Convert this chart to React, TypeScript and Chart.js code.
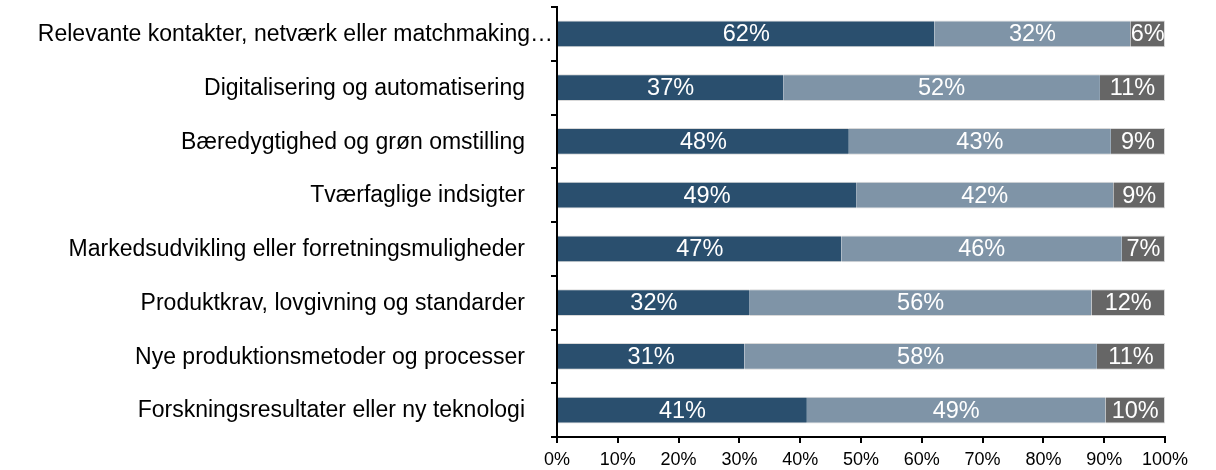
import { useEffect, useRef } from "react";
import { Chart, registerables } from "chart.js";

Chart.register(...registerables);

const categories = [
  "Relevante kontakter, netværk eller matchmaking…",
  "Digitalisering og automatisering",
  "Bæredygtighed og grøn omstilling",
  "Tværfaglige indsigter",
  "Markedsudvikling eller forretningsmuligheder",
  "Produktkrav, lovgivning og standarder",
  "Nye produktionsmetoder og processer",
  "Forskningsresultater eller ny teknologi",
];

const seriesA = [62.1, 37.2, 48.0, 49.2, 46.8, 31.7, 30.8, 41.1];
const seriesB = [32.2, 52.1, 43.1, 42.3, 46.1, 56.2, 58.0, 49.1];
const seriesC = [5.7, 10.7, 8.9, 8.5, 7.1, 12.1, 11.2, 9.8];

const seriesNames = ["A", "B", "C"];
const seriesColors = ["#2A4F6E", "#7F94A7", "#666666"];

const FONT = '"Liberation Sans", Arial, sans-serif';

const dataLabelPlugin = {
  id: "dataLabels",
  afterDatasetsDraw(chart: any) {
    const ctx = chart.ctx;
    ctx.save();
    ctx.font = `23.5px ${FONT}`;
    ctx.fillStyle = "#ffffff";
    ctx.textAlign = "center";
    ctx.textBaseline = "middle";
    chart.data.datasets.forEach((ds: any, di: number) => {
      const meta = chart.getDatasetMeta(di);
      meta.data.forEach((el: any, i: number) => {
        const p = el.getProps(["x", "base", "y"], true);
        const v = ds.data[i];
        ctx.fillText(Math.round(v) + "%", (p.x + p.base) / 2, p.y + 1);
      });
    });
    ctx.restore();
  },
};

const categoryLabelPlugin = {
  id: "categoryLabels",
  afterDraw(chart: any) {
    const ctx = chart.ctx;
    const yScale = chart.scales.y;
    const left = chart.chartArea.left;
    ctx.save();
    ctx.font = `23px ${FONT}`;
    ctx.fillStyle = "#000000";
    ctx.textAlign = "right";
    ctx.textBaseline = "middle";
    chart.data.labels.forEach((lab: string, i: number) => {
      const y = yScale.getPixelForTick(i);
      const w = ctx.measureText(lab).width;
      const available = left - 32 - 22;
      const right = w > available ? left - 4 : left - 32;
      ctx.fillText(lab, right, y + 1);
    });
    ctx.restore();
  },
};

export default function App() {
  const canvasRef = useRef<HTMLCanvasElement | null>(null);

  useEffect(() => {
    document.body.style.margin = "0";
    const canvas = canvasRef.current;
    if (!canvas) return;
    const values = [seriesA, seriesB, seriesC];
    const chart = new Chart(canvas, {
      type: "bar",
      data: {
        labels: categories,
        datasets: values.map((vals, k) => ({
          label: seriesNames[k],
          data: vals,
          backgroundColor: seriesColors[k],
          borderColor: "#d9d9d9",
          borderWidth: { top: 1, bottom: 1, left: 0, right: k === 2 ? 1 : 0 },
          borderSkipped: false,
          barPercentage: 0.5,
          categoryPercentage: 1,
        })),
      },
      options: {
        indexAxis: "y",
        animation: false,
        responsive: true,
        maintainAspectRatio: false,
        layout: { padding: { left: 0, right: 51, top: 7, bottom: 0 } },
        plugins: {
          legend: { display: false },
          tooltip: { enabled: false },
        },
        scales: {
          x: {
            stacked: true,
            min: 0,
            max: 100,
            afterFit: (scale: any) => {
              scale.height = 33;
            },
            border: { display: true, color: "#000000", width: 2 },
            grid: {
              display: true,
              drawOnChartArea: false,
              drawTicks: true,
              tickLength: 6,
              color: "#000000",
              lineWidth: 2,
            },
            ticks: {
              stepSize: 10,
              color: "#000000",
              font: { family: FONT, size: 18 },
              padding: 6,
              maxRotation: 0,
              callback: (v: any) => v + "%",
            },
          },
          y: {
            stacked: true,
            afterFit: (scale: any) => {
              scale.width = 557;
            },
            border: { display: true, color: "#000000", width: 2 },
            grid: {
              display: true,
              drawOnChartArea: false,
              drawTicks: true,
              tickLength: 6,
              color: "#000000",
              lineWidth: 2,
              offset: true,
            },
            ticks: { display: false },
          },
        },
      },
      plugins: [dataLabelPlugin, categoryLabelPlugin],
    });
    return () => chart.destroy();
  }, []);

  return (
    <div style={{ position: "relative", width: 1216, height: 470 }}>
      <canvas ref={canvasRef} />
    </div>
  );
}
